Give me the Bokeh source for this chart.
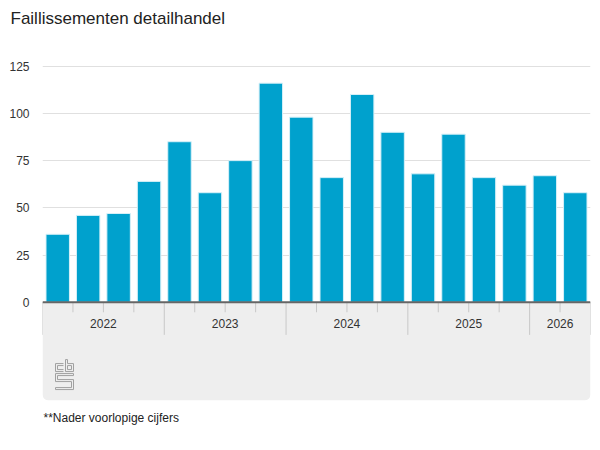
from bokeh.plotting import figure
from bokeh.models import FixedTicker, Range1d, ColumnDataSource, Title, Quad
from bokeh.core.properties import value
from bokeh.embed import file_html
from bokeh.resources import INLINE

# ---- data ----
title_text = "Faillissementen detailhandel"
footnote_text = "**Nader voorlopige cijfers"
years = ["2022", "2023", "2024", "2025", "2026"]
quarters_per_year = [4, 4, 4, 4, 2]
quarters = ["2022 1e kw", "2022 2e kw", "2022 3e kw", "2022 4e kw",
            "2023 1e kw", "2023 2e kw", "2023 3e kw", "2023 4e kw",
            "2024 1e kw", "2024 2e kw", "2024 3e kw", "2024 4e kw",
            "2025 1e kw", "2025 2e kw", "2025 3e kw", "2025 4e kw",
            "2026 1e kw", "2026 2e kw*"]
values = [36, 46, 47, 64, 85, 58, 75, 116, 98, 66, 110, 90, 68, 89, 66, 62, 67, 58]
y_ticks = [0, 25, 50, 75, 100, 125]

FONT = "Liberation Sans"
BAR = "#00a1cd"
n = len(values)

Y_MIN, Y_MAX = -52, 128
px_x = 548 / n
px_y = 340 / (Y_MAX - Y_MIN)

p = figure(width=592, height=442, x_range=Range1d(0, n), y_range=Range1d(Y_MIN, Y_MAX),
           output_backend="svg", toolbar_location=None, title=None,
           min_border_left=42, min_border_right=2, min_border_top=60, min_border_bottom=42)
p.outline_line_color = None
p.background_fill_color = "white"
p.border_fill_color = "white"
p.xaxis.visible = False
p.xgrid.visible = False

ax = p.yaxis[0]
ax.ticker = FixedTicker(ticks=y_ticks, minor_ticks=[])
ax.axis_line_color = None
ax.major_tick_line_color = None
ax.minor_tick_line_color = None
ax.major_tick_out = 0
ax.major_label_standoff = 13
ax.major_label_text_font = FONT
ax.major_label_text_font_size = "12px"
ax.major_label_text_color = "#333333"

p.ygrid.ticker = FixedTicker(ticks=y_ticks, minor_ticks=[])
p.ygrid.grid_line_color = "#e0e0e0"
p.ygrid.grid_line_width = 1

# spacer between title and plot area, then the title itself (outermost)
p.add_layout(Title(text=" ", text_font=FONT, text_font_size="28px", standoff=0), "above")
p.add_layout(Title(text=title_text, text_font=FONT, text_font_size="17px",
                   text_font_style="normal", text_color="#222222", align="left",
                   offset=-32, standoff=0), "above")

p.add_layout(Title(text=footnote_text, text_font=FONT, text_font_size="12px",
                   text_font_style="normal", text_color="#222222", align="left",
                   offset=1, standoff=17), "below")

# axis panel (grey box under the bars)
sep_depth = 32.6 / px_y
minor_depth = 10 / px_y
qkw = dict(left=[0], right=[n], top=[0], bottom=[Y_MIN], fill_color="#eeeeee", line_color=None)
if "border_radius" in Quad.properties():
    qkw["border_radius"] = (0, 0, 6, 6)
p.quad(**qkw)

# bars
src = ColumnDataSource(dict(x=[i + 0.5 for i in range(n)], top=values, q=quarters))
p.vbar(x="x", top="top", bottom=0, width=0.77, source=src,
       fill_color=BAR, line_color="#d6f0f8", line_width=1)

# year separators and quarter ticks
bounds = [0]
for c in quarters_per_year:
    bounds.append(bounds[-1] + c)
minor = [i for i in range(1, n) if i not in bounds]
p.segment(x0=bounds, x1=bounds, y0=[0] * len(bounds), y1=[-sep_depth] * len(bounds),
          line_color="#c8c8c8", line_width=1)
p.segment(x0=minor, x1=minor, y0=[0] * len(minor), y1=[-minor_depth] * len(minor),
          line_color="#c8c8c8", line_width=1)

# axis line
p.segment(x0=[0], x1=[n], y0=[0], y1=[0], line_color="#666666", line_width=2)

# year labels
centers = [(bounds[i] + bounds[i + 1]) / 2 for i in range(len(years))]
p.text(x=centers, y=[-21 / px_y] * len(years), text=years, text_font=value(FONT),
       text_font_size="12px", text_color="#333333", text_align="center", text_baseline="middle")

# CBS logo (decorative outline)
lx0, ly0 = 13 / px_x, -57.3 / px_y
logo_px = [
    [(8, 4), (0, 4), (0, 12), (8, 12)],
    [(8, 6), (2, 6), (2, 10), (8, 10)],
    [(10, 0), (10, 12), (18, 12), (18, 4), (12, 4), (12, 0), (10, 0)],
    [(12, 6), (16, 6), (16, 10), (12, 10), (12, 6)],
    [(18, 14), (0, 14), (0, 22), (16, 22), (16, 28), (0, 28), (0, 30), (18, 30),
     (18, 20), (2, 20), (2, 16), (18, 16), (18, 14)],
]
p.multi_line(xs=[[lx0 + a / px_x for a, b in ln] for ln in logo_px],
             ys=[[ly0 - b / px_y for a, b in ln] for ln in logo_px],
             line_color="#a0a0a0", line_width=1)

open("out.html", "w").write(file_html(p, INLINE))
